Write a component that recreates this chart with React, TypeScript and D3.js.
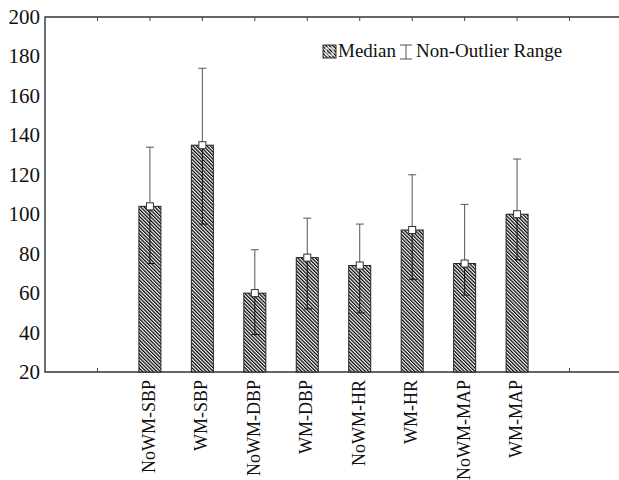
import React, { useEffect, useRef } from 'react';
import * as d3 from 'd3';

const categories = ['NoWM-SBP', 'WM-SBP', 'NoWM-DBP', 'WM-DBP', 'NoWM-HR', 'WM-HR', 'NoWM-MAP', 'WM-MAP'];
const medians = [104, 135, 60, 78, 74, 92, 75, 100];
const rangeMax = [134, 174, 82, 98, 95, 120, 105, 128];
const rangeMin = [75, 95, 39, 52, 50, 67, 59, 77];
const yTicks = [20, 40, 60, 80, 100, 120, 140, 160, 180, 200];

const App = () => {
  const ref = useRef<SVGSVGElement>(null);

  useEffect(() => {
    const width = 619;
    const height = 480;
    const margin = { top: 17, bottom: 108, left: 45, right: -3 };
    const font = '"Liberation Serif", "Times New Roman", serif';

    const svg = d3.select(ref.current);
    svg.selectAll('*').remove();

    // slot 0 and 9 stay empty, bars sit in slots 1..8
    const xScale = d3.scaleLinear()
      .domain([-1, 10])
      .range([margin.left, width - margin.right]);
    const yScale = d3.scaleLinear()
      .domain([20, 200])
      .range([height - margin.bottom, margin.top]);

    const defs = svg.append('defs');
    const pat = defs.append('pattern')
      .attr('id', 'hatch')
      .attr('patternUnits', 'userSpaceOnUse')
      .attr('width', 2.5)
      .attr('height', 2.5)
      .attr('patternTransform', 'rotate(-45)');
    pat.append('rect').attr('width', 2.5).attr('height', 2.5).attr('fill', '#fff');
    pat.append('line')
      .attr('x1', 0.6).attr('y1', 0).attr('x2', 0.6).attr('y2', 2.5)
      .attr('stroke', '#000').attr('stroke-width', 1.3);

    const x0 = margin.left, x1 = width - margin.right;
    const yTop = yScale(200), yBot = yScale(20);

    // frame
    svg.append('path')
      .attr('d', `M${x1},${yTop}H${x0}V${yBot}H${x1}`)
      .attr('fill', 'none')
      .attr('stroke', '#333')
      .attr('stroke-width', 1.4);

    // inward category ticks on top and bottom
    d3.range(10).forEach(i => {
      const x = xScale(i);
      svg.append('line').attr('x1', x).attr('x2', x).attr('y1', yTop).attr('y2', yTop + 4)
        .attr('stroke', '#444');
      svg.append('line').attr('x1', x).attr('x2', x).attr('y1', yBot).attr('y2', yBot - 4)
        .attr('stroke', '#444');
    });

    // y labels
    svg.append('g').selectAll('text')
      .data(yTicks)
      .enter().append('text')
      .attr('x', x0 - 5)
      .attr('y', d => yScale(d) + 7)
      .attr('text-anchor', 'end')
      .attr('font-family', font)
      .attr('font-size', 21)
      .attr('fill', '#111')
      .text(d => d);

    const barW = 22;
    const g = svg.append('g');
    categories.forEach((c, i) => {
      const cx = xScale(i + 1);
      const yMed = yScale(medians[i]);
      g.append('rect')
        .attr('x', cx - barW / 2)
        .attr('y', yMed)
        .attr('width', barW)
        .attr('height', yBot - yMed)
        .attr('fill', 'url(#hatch)')
        .attr('stroke', '#222')
        .attr('stroke-width', 1);

      // upper whisker
      g.append('line').attr('x1', cx).attr('x2', cx)
        .attr('y1', yMed).attr('y2', yScale(rangeMax[i]))
        .attr('stroke', '#555').attr('stroke-width', 1);
      g.append('line').attr('x1', cx - 4).attr('x2', cx + 4)
        .attr('y1', yScale(rangeMax[i])).attr('y2', yScale(rangeMax[i]))
        .attr('stroke', '#555').attr('stroke-width', 1);
      // lower whisker inside the bar
      g.append('line').attr('x1', cx).attr('x2', cx)
        .attr('y1', yMed).attr('y2', yScale(rangeMin[i]))
        .attr('stroke', '#111').attr('stroke-width', 1);
      g.append('line').attr('x1', cx - 3).attr('x2', cx + 5)
        .attr('y1', yScale(rangeMin[i])).attr('y2', yScale(rangeMin[i]))
        .attr('stroke', '#111').attr('stroke-width', 1);

      g.append('rect')
        .attr('x', cx - 3.5).attr('y', yMed - 3.5)
        .attr('width', 7).attr('height', 7)
        .attr('fill', '#fff').attr('stroke', '#333').attr('stroke-width', 1);

      svg.append('text')
        .attr('transform', `translate(${cx + 5},${yBot + 8}) rotate(-90)`)
        .attr('text-anchor', 'end')
        .attr('font-family', font)
        .attr('font-size', 18)
        .attr('fill', '#111')
        .text(c);
    });

    // legend
    const leg = svg.append('g');
    leg.append('rect')
      .attr('x', 323).attr('y', 45).attr('width', 13).attr('height', 13)
      .attr('fill', 'url(#hatch)').attr('stroke', '#333');
    leg.append('rect')
      .attr('x', 326).attr('y', 48).attr('width', 7).attr('height', 7)
      .attr('fill', 'none').attr('stroke', '#fff').attr('stroke-width', 1);
    leg.append('text')
      .attr('x', 338).attr('y', 57)
      .attr('font-family', font).attr('font-size', 19).attr('fill', '#111')
      .text('Median');
    leg.append('path')
      .attr('d', 'M400,45H412M406,45V59M400,59H412')
      .attr('fill', 'none').attr('stroke', '#555').attr('stroke-width', 1);
    leg.append('text')
      .attr('x', 416).attr('y', 57)
      .attr('font-family', font).attr('font-size', 19).attr('fill', '#111')
      .text('Non-Outlier Range');
  }, []);

  return (
    <svg ref={ref} width={619} height={480}
      style={{ position: 'absolute', left: 0, top: 0, background: '#fff' }} />
  );
};

export default App;
